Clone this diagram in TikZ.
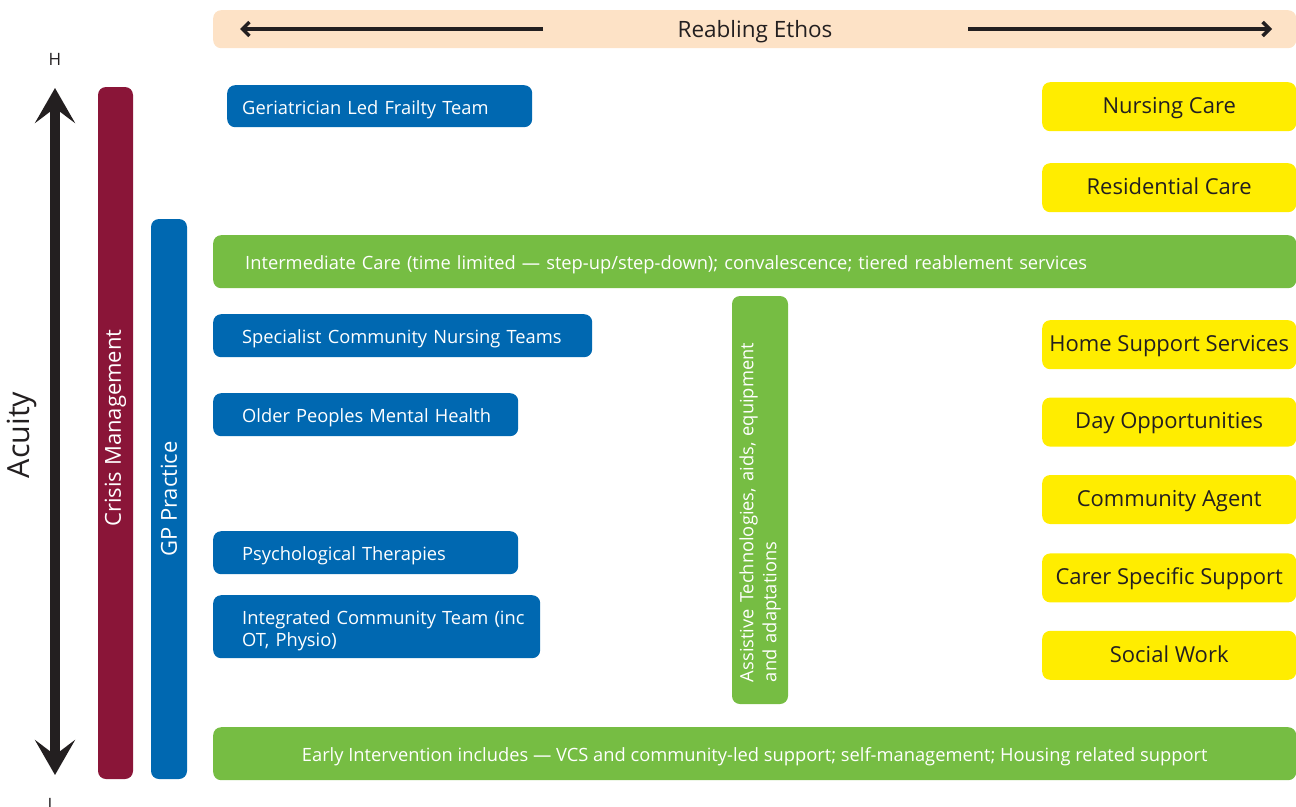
\documentclass[tikz,border=0pt]{standalone}
\usepackage{fontspec}
\setmainfont{Open Sans}
\usepackage{tikz}
\usetikzlibrary{arrows.meta,positioning}

\definecolor{peach}{RGB}{253,226,198}
\definecolor{maroon}{RGB}{138,21,56}
\definecolor{nhsblue}{RGB}{0,104,177}
\definecolor{leaf}{RGB}{118,189,67}
\definecolor{sun}{RGB}{255,237,0}
\definecolor{ink}{RGB}{35,31,32}

\begin{document}
\begin{tikzpicture}[x=1pt, y=-1pt]
	\tikzstyle{Box}		= [rounded corners=8pt, inner ysep=0pt]
	\tikzstyle{Service}	= [Box, fill=nhsblue, text=white, font=\fontsize{18.3}{22}\selectfont, text height=16.5pt, text depth=0pt, inner xsep=29pt, align=left, anchor=north west]
	\tikzstyle{Provider}	= [Box, fill=sun, text=ink, font=\fontsize{22}{26}\selectfont, text height=13.4pt, text depth=0pt, minimum width=254pt, minimum height=49pt, anchor=north west]
	\tikzstyle{Band}	= [Box, fill=leaf, text=white, font=\fontsize{18.3}{22}\selectfont, text height=16.5pt, text depth=0pt, minimum width=1083pt, minimum height=53pt, anchor=north west]
	\tikzstyle{Pillar}	= [Box, rotate=90, text=white, font=\fontsize{22}{26}\selectfont]
	\tikzstyle{Ethos}	= [line width=3.5pt, ink, -{Straight Barb[length=7pt, width=14pt]}]

	\useasboundingbox (0,0) rectangle (1296,806);

	% reabling ethos banner
	\node (ethos) at (213,10) [Box, fill=peach, anchor=north west, minimum width=1083pt, minimum height=38pt] {};
	\node (ethostext) at (755,29) [font=\fontsize{22.5}{26}\selectfont, text height=17.7pt, text depth=0pt, text=ink] {Reabling Ethos};
	\coordinate (eL0) at (543,29);
	\coordinate (eL1) at (240,29);
	\coordinate (eR0) at (968,29);
	\coordinate (eR1) at (1272,29);
	\draw [Ethos] (eL0) to (eL1);
	\draw [Ethos] (eR0) to (eR1);

	% acuity axis
	\node (acuity) at (22,435) [rotate=90, font=\fontsize{30.5}{34}\selectfont, text=ink] {Acuity};
	\node (high) at (55,59) [font=\fontsize{17}{20}\selectfont, text=ink] {H};
	\node (low) at (52,804) [font=\fontsize{17}{20}\selectfont, text=ink] {L};
	\coordinate (aTop) at (55,88);
	\coordinate (aBot) at (55,775);
	\draw [line width=10pt, ink, {Stealth[length=35pt, width=40pt, inset=15pt]}-{Stealth[length=35pt, width=40pt, inset=15pt]}] (aTop) to (aBot);

	% vertical pillars
	\node (crisis) at (115.5,433) [Pillar, fill=maroon, minimum width=692pt, minimum height=35pt] {\hspace*{10pt}Crisis Management};
	\node (gp) at (169,499) [Pillar, fill=nhsblue, minimum width=560pt, minimum height=36pt] {GP Practice};
	\node (assist) at (760,500) [Pillar, fill=leaf, font=\fontsize{18.3}{23}\selectfont, minimum width=408pt, minimum height=56pt, text width=364pt, inner xsep=22pt, align=left]
		{Assistive Technologies, aids, equipment\\and adaptations};

	% health services
	\node (frailty) at (227,85) [Service, inner xsep=15pt, text width=275pt, minimum height=42pt] {Geriatrician Led Frailty Team};
	\foreach \y/\tw/\n/\t in {314/321/nursing/Specialist Community Nursing Teams, 393/247/mental/Older Peoples Mental Health, 531/247/psych/Psychological Therapies}
		\node (\n) at (213,\y) [Service, text width=\tw pt, minimum height=43pt] {\mbox{\t}};
	\node (ict) at (213,595) [Service, text width=269pt, text depth=20.9pt, minimum height=63pt] {\mbox{Integrated Community Team (inc}\\OT, Physio)};

	% green bands
	\node (intermediate) at (213,235) [Band, inner xsep=32pt, text width=1019pt, align=left]
		{Intermediate Care (time limited --- step-up/step-down); convalescence; tiered reablement services};
	\node (early) at (213,727) [Band, align=center]
		{Early Intervention includes --- VCS and community-led support; self-management; Housing related support};

	% care providers
	\node (nursingcare) at (1042,82) [Provider] {Nursing Care};
	\node (residential) at (1042,163) [Provider] {Residential Care};
	\node (home) at (1042,320) [Provider] {Home Support Services};
	\node (day) [Provider, below=28pt of home.south west, anchor=north west] {Day Opportunities};
	\node (agent) [Provider, below=28pt of day.south west, anchor=north west] {Community Agent};
	\node (carer) [Provider, below=29pt of agent.south west, anchor=north west] {Carer Specific Support};
	\node (social) [Provider, below=28pt of carer.south west, anchor=north west] {Social Work};
\end{tikzpicture}
\end{document}
